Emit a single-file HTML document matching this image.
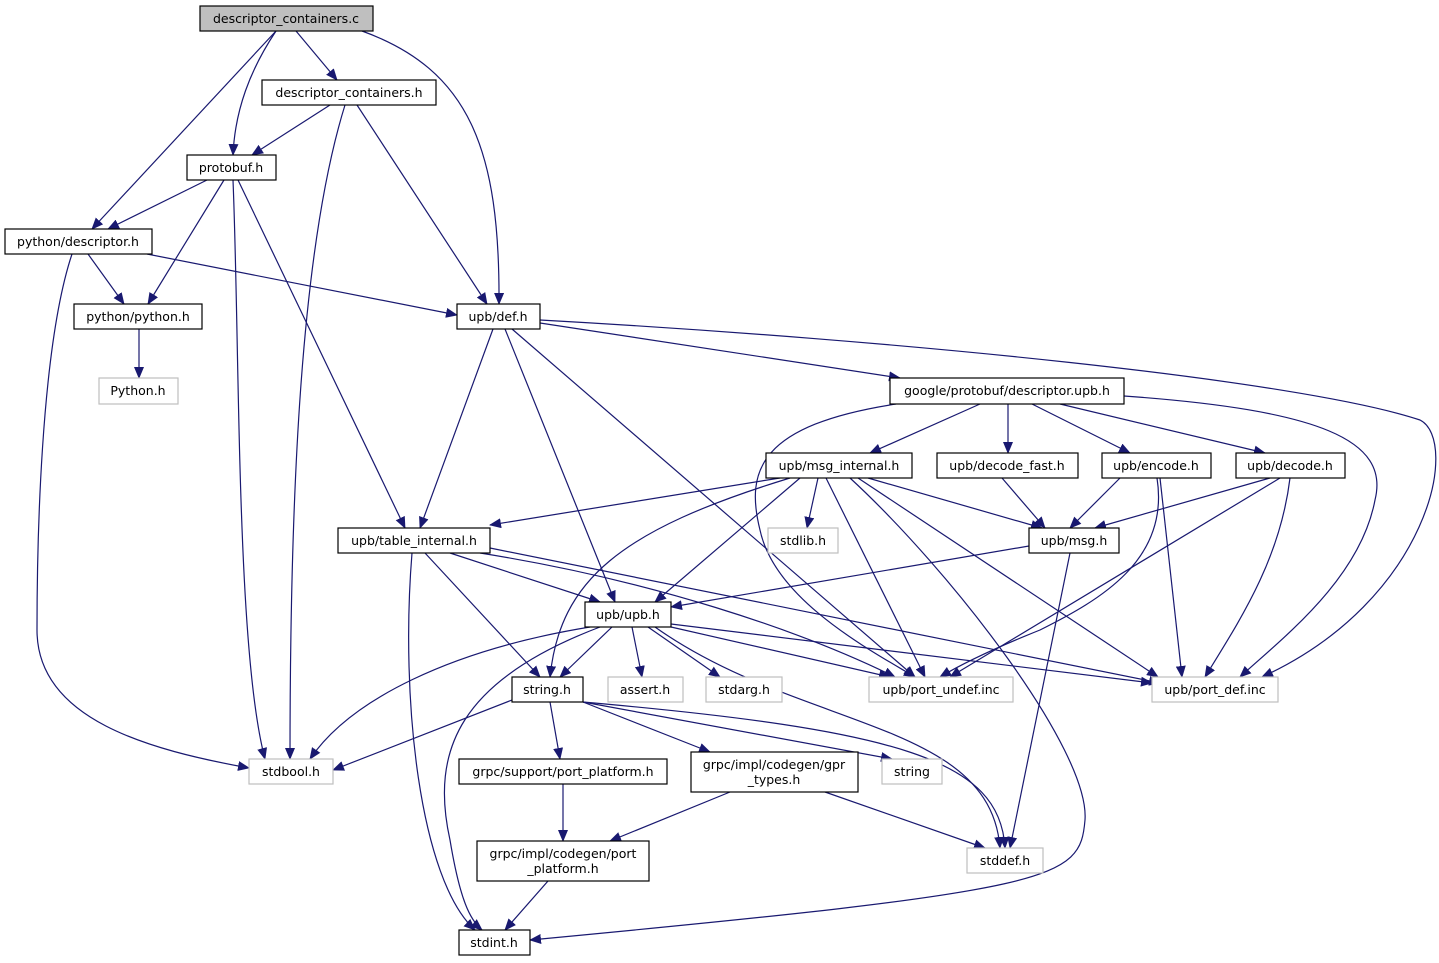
<!DOCTYPE html>
<html><head><meta charset="utf-8"><style>
html,body{margin:0;padding:0;background:#fff;width:1439px;height:963px;overflow:hidden}
svg text{font-family:"DejaVu Sans","Liberation Sans",sans-serif;font-size:12.5px;fill:#000;text-anchor:middle}
</style></head><body>
<svg width="1439" height="963" viewBox="0 0 1439 963" xmlns="http://www.w3.org/2000/svg">
<defs><marker id="a" markerUnits="userSpaceOnUse" markerWidth="12" markerHeight="10" refX="11" refY="5" orient="auto"><path d="M0,0 L12,5 L0,10 z" fill="#191970"/></marker></defs>
<g fill="none" stroke="#191970" stroke-width="1.2" marker-end="url(#a)">
<path d="M276,31 L92,229"/>
<path d="M276,31 C250,70 235,110 233,155"/>
<path d="M296,31 L337,80"/>
<path d="M362,31 C470,70 500,150 499,304"/>
<path d="M330,105 L252,155"/>
<path d="M345,105 C300,250 290,500 290,759"/>
<path d="M357,105 L487,304"/>
<path d="M207,180 L108,229"/>
<path d="M224,180 L148,304"/>
<path d="M233,180 C240,350 236,650 265,759"/>
<path d="M238,180 L405,528"/>
<path d="M88,254 L124,304"/>
<path d="M147,254 L457,315"/>
<path d="M72,254 C40,350 37,550 37,630 C37,720 150,750 249,768"/>
<path d="M139,329 L139,378"/>
<path d="M493,329 L420,528"/>
<path d="M505,329 L615,602"/>
<path d="M512,329 L915,677"/>
<path d="M540,323 L900,378"/>
<path d="M540,320 C900,340 1300,380 1420,420 C1460,440 1430,600 1262,677"/>
<path d="M980,404 L870,453"/>
<path d="M1008,404 L1008,453"/>
<path d="M1032,404 L1130,453"/>
<path d="M1060,404 L1265,453"/>
<path d="M896,404 C760,425 745,470 760,530 C775,600 870,650 915,677"/>
<path d="M1124,396 C1320,410 1390,440 1375,500 C1360,580 1280,640 1240,677"/>
<path d="M780,478 L490,525"/>
<path d="M800,478 L655,602"/>
<path d="M818,478 L807,528"/>
<path d="M826,478 L925,677"/>
<path d="M850,478 C950,570 1090,750 1085,820 C1080,880 1060,890 530,940"/>
<path d="M868,478 L1042,528"/>
<path d="M858,478 L1158,677"/>
<path d="M790,478 C620,530 560,580 550,677"/>
<path d="M1002,478 L1045,528"/>
<path d="M1120,478 L1070,528"/>
<path d="M1157,478 C1170,560 1100,600 1040,630 C990,650 960,665 940,677"/>
<path d="M1160,478 L1182,677"/>
<path d="M1270,478 L1095,528"/>
<path d="M1280,478 L950,677"/>
<path d="M1290,478 C1280,560 1240,620 1205,677"/>
<path d="M1029,546 L671,607"/>
<path d="M1070,553 L1010,848"/>
<path d="M450,553 L600,602"/>
<path d="M425,553 L540,677"/>
<path d="M412,553 C400,700 420,880 475,930"/>
<path d="M480,553 C650,580 800,630 895,677"/>
<path d="M490,548 L1160,683"/>
<path d="M612,627 L560,677"/>
<path d="M632,627 L642,677"/>
<path d="M648,627 L720,677"/>
<path d="M671,627 L890,677"/>
<path d="M671,624 L1152,683"/>
<path d="M590,627 C450,650 350,700 310,759"/>
<path d="M600,627 C460,680 430,750 450,840 C460,900 470,920 482,930"/>
<path d="M655,627 C800,730 990,720 1000,848"/>
<path d="M512,700 L333,770"/>
<path d="M550,702 L560,759"/>
<path d="M583,702 L710,752"/>
<path d="M583,702 L892,759"/>
<path d="M583,702 C900,730 1000,760 1005,848"/>
<path d="M563,784 L563,841"/>
<path d="M730,792 L610,841"/>
<path d="M825,792 L985,848"/>
<path d="M548,881 L505,930"/>
</g>
<g stroke-width="1.2">
<rect x="200" y="6" width="173" height="25" fill="#bfbfbf" stroke="#000"/>
<rect x="262" y="80" width="174" height="25" fill="#fff" stroke="#000"/>
<rect x="187" y="155" width="89" height="25" fill="#fff" stroke="#000"/>
<rect x="5" y="229" width="147" height="25" fill="#fff" stroke="#000"/>
<rect x="74" y="304" width="128" height="25" fill="#fff" stroke="#000"/>
<rect x="457" y="304" width="83" height="25" fill="#fff" stroke="#000"/>
<rect x="99" y="378" width="79" height="26" fill="#fff" stroke="#bfbfbf"/>
<rect x="890" y="378" width="234" height="26" fill="#fff" stroke="#000"/>
<rect x="766" y="453" width="146" height="25" fill="#fff" stroke="#000"/>
<rect x="937" y="453" width="141" height="25" fill="#fff" stroke="#000"/>
<rect x="1102" y="453" width="109" height="25" fill="#fff" stroke="#000"/>
<rect x="1236" y="453" width="109" height="25" fill="#fff" stroke="#000"/>
<rect x="768" y="528" width="70" height="25" fill="#fff" stroke="#bfbfbf"/>
<rect x="1029" y="528" width="90" height="25" fill="#fff" stroke="#000"/>
<rect x="338" y="528" width="152" height="25" fill="#fff" stroke="#000"/>
<rect x="585" y="602" width="86" height="25" fill="#fff" stroke="#000"/>
<rect x="512" y="677" width="71" height="25" fill="#fff" stroke="#000"/>
<rect x="608" y="677" width="75" height="25" fill="#fff" stroke="#bfbfbf"/>
<rect x="706" y="677" width="76" height="25" fill="#fff" stroke="#bfbfbf"/>
<rect x="869" y="677" width="144" height="25" fill="#fff" stroke="#bfbfbf"/>
<rect x="1152" y="677" width="126" height="25" fill="#fff" stroke="#bfbfbf"/>
<rect x="249" y="759" width="84" height="25" fill="#fff" stroke="#bfbfbf"/>
<rect x="459" y="759" width="208" height="25" fill="#fff" stroke="#000"/>
<rect x="691" y="752" width="167" height="40" fill="#fff" stroke="#000"/>
<rect x="882" y="759" width="60" height="25" fill="#fff" stroke="#bfbfbf"/>
<rect x="477" y="841" width="172" height="40" fill="#fff" stroke="#000"/>
<rect x="967" y="848" width="76" height="25" fill="#fff" stroke="#bfbfbf"/>
<rect x="459" y="930" width="71" height="25" fill="#fff" stroke="#000"/>
</g>
<text x="286" y="23">descriptor_containers.c</text>
<text x="349" y="97">descriptor_containers.h</text>
<text x="231" y="172">protobuf.h</text>
<text x="78" y="246">python/descriptor.h</text>
<text x="138" y="321">python/python.h</text>
<text x="498" y="321">upb/def.h</text>
<text x="138" y="395">Python.h</text>
<text x="1007" y="395">google/protobuf/descriptor.upb.h</text>
<text x="839" y="470">upb/msg_internal.h</text>
<text x="1007" y="470">upb/decode_fast.h</text>
<text x="1156" y="470">upb/encode.h</text>
<text x="1290" y="470">upb/decode.h</text>
<text x="803" y="545">stdlib.h</text>
<text x="1074" y="545">upb/msg.h</text>
<text x="414" y="545">upb/table_internal.h</text>
<text x="628" y="619">upb/upb.h</text>
<text x="547" y="694">string.h</text>
<text x="645" y="694">assert.h</text>
<text x="744" y="694">stdarg.h</text>
<text x="941" y="694">upb/port_undef.inc</text>
<text x="1215" y="694">upb/port_def.inc</text>
<text x="291" y="776">stdbool.h</text>
<text x="563" y="776">grpc/support/port_platform.h</text>
<text x="774" y="769">grpc/impl/codegen/gpr</text>
<text x="774" y="784">_types.h</text>
<text x="912" y="776">string</text>
<text x="563" y="858">grpc/impl/codegen/port</text>
<text x="563" y="873">_platform.h</text>
<text x="1005" y="865">stddef.h</text>
<text x="494" y="947">stdint.h</text>
</svg>
</body></html>
